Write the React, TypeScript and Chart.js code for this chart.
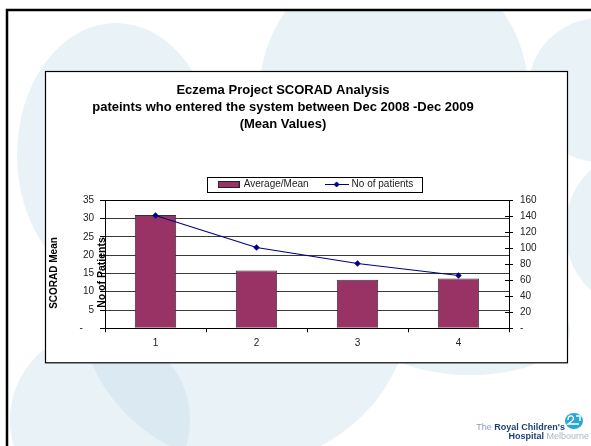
import React, { useEffect, useRef } from 'react';
import { Chart, registerables } from 'chart.js';

Chart.register(...registerables);

// ---- data ----
const categories = ['1', '2', '3', '4'];
const scoradMean = [31.0, 15.8, 13.3, 13.6];
const patientCount = [141, 101, 81, 66];
const seriesNames = ['Average/Mean', 'No of patients'];
const titleLines = [
  'Eczema Project SCORAD Analysis',
  'pateints who entered the system between Dec 2008 -Dec 2009',
  '(Mean Values)',
];
const leftAxisTitle = 'SCORAD Mean';
const rightAxisTitle = 'No of Patients';
const leftAxisMax = 35;
const leftAxisStep = 5;
const rightAxisMax = 160;
const rightAxisStep = 20;

const FONT = '"Liberation Sans", Arial, Helvetica, sans-serif';
const BAR_COLOR = '#993366';
const LINE_COLOR = '#000080';

const decorPlugin = {
  id: 'decor',
  beforeDraw(chart: any) {
    const ctx = chart.ctx as CanvasRenderingContext2D;
    const W = chart.width;
    const H = chart.height;
    const pad = chart.options.layout.padding;
    ctx.save();
    ctx.fillStyle = '#ffffff';
    ctx.fillRect(0, 0, W, H);
    ctx.beginPath();
    ctx.rect(8, 11, W - 8, H - 11);
    ctx.clip();
    ctx.fillStyle = 'rgba(200,225,235,0.42)';
    const ell = (x: number, y: number, rx: number, ry: number) => {
      ctx.beginPath();
      ctx.ellipse(x, y, rx, ry, 0, 0, Math.PI * 2);
      ctx.fill();
    };
    ell(116, 155, 99, 132);
    ell(394, 90, 134, 134);
    ell(600, 90, 72, 72);
    ell(100, 420, 90, 90);
    ell(245, 297, 167, 167);
    ell(470, 330, 100, 45);
    ell(640, 230, 75, 80);
    ctx.restore();

    // slide border
    ctx.save();
    ctx.strokeStyle = '#000';
    ctx.lineWidth = 2.5;
    ctx.beginPath();
    ctx.moveTo(7, H);
    ctx.lineTo(7, 10);
    ctx.lineTo(W, 10);
    ctx.stroke();

    // chart box
    const bx = pad.left + 0.5;
    const by = pad.top + 0.5;
    const bw = W - pad.left - pad.right - 1;
    const bh = H - pad.top - pad.bottom;
    ctx.fillStyle = '#fff';
    ctx.fillRect(bx, by, bw, bh);
    ctx.lineWidth = 1.2;
    ctx.strokeRect(bx, by, bw, bh);

    // logo
    ctx.textBaseline = 'middle';
    ctx.textAlign = 'right';
    ctx.font = `bold 9px ${FONT}`;
    ctx.fillStyle = '#1f3f7a';
    ctx.fillText("Royal Children's", 565, 428);
    const w1 = ctx.measureText("Royal Children's").width;
    ctx.font = `9px ${FONT}`;
    ctx.fillStyle = '#8a9bb5';
    ctx.fillText('The ', 565 - w1, 428);
    ctx.font = `9px ${FONT}`;
    ctx.fillStyle = '#a9b6c6';
    ctx.fillText('Melbourne', 589, 437);
    const w2 = ctx.measureText('Melbourne').width;
    ctx.font = `bold 9px ${FONT}`;
    ctx.fillStyle = '#1f3f7a';
    ctx.fillText('Hospital ', 589 - w2, 437);
    ctx.fillStyle = '#2aa6d5';
    ctx.beginPath();
    ctx.ellipse(574, 421, 9, 8, 0, 0, Math.PI * 2);
    ctx.fill();
    ctx.strokeStyle = '#fff';
    ctx.lineWidth = 1.4;
    ctx.beginPath();
    ctx.moveTo(568, 420);
    ctx.quadraticCurveTo(568, 415, 572, 416);
    ctx.quadraticCurveTo(575, 418, 572, 421);
    ctx.lineTo(568, 424);
    ctx.lineTo(579, 424);
    ctx.moveTo(576, 416);
    ctx.lineTo(580, 416);
    ctx.lineTo(580, 421);
    ctx.stroke();
    ctx.restore();
  },
  afterLayout(chart: any) {
    const ca = chart.chartArea;
    const mid = (ca.left + ca.right) / 2;
    const tb = chart.titleBlock;
    if (tb) {
      const d = mid - 24 - (tb.left + tb.right) / 2;
      tb.left += d;
      tb.right += d;
    }
    const lg = chart.legend;
    if (lg) {
      const p = lg.options.labels.padding;
      const d = mid + 9 - (lg.left + lg.right) / 2;
      lg.left += d;
      lg.right += d;
      const cy = ca.top - 15.8;
      const h = lg.height;
      lg.top = cy - 5 - p;
      lg.bottom = lg.top + h;
    }
  },
  afterDraw(chart: any) {
    const ctx = chart.ctx as CanvasRenderingContext2D;
    const ca = chart.chartArea;
    ctx.save();
    // plot border
    ctx.strokeStyle = '#000';
    ctx.lineWidth = 1;
    const l = Math.round(ca.left) + 0.5;
    const t = Math.round(ca.top) + 0.5;
    const r = Math.round(ca.right) + 0.5;
    const b = Math.round(ca.bottom) + 0.5;
    ctx.strokeRect(l, t, r - l, b - t);

    // inner ticks of right axis
    const y1 = chart.scales.y1;
    ctx.beginPath();
    y1.ticks.forEach((tk: any) => {
      const py = Math.round(y1.getPixelForValue(tk.value)) + 0.5;
      ctx.moveTo(ca.right - 4, py);
      ctx.lineTo(ca.right, py);
    });
    ctx.stroke();

    // legend border
    const lg = chart.legend;
    if (lg && lg.lineWidths) {
      const p = lg.options.labels.padding;
      const LW = lg.lineWidths[0];
      const xStart = (lg.left + p + lg.right - LW) / 2;
      const contentEnd = xStart + LW - p;
      const cy = lg.top + p + 5;
      const x0 = Math.round(xStart - 11.6) + 0.5;
      const x1 = Math.round(contentEnd + 9) + 0.5;
      const y0 = Math.round(cy - 7.8) + 0.5;
      const yb = Math.round(cy + 7.8) + 0.5;
      ctx.strokeRect(x0, y0, x1 - x0, yb - y0);
    }

    // axis titles
    const cyc = (ca.top + ca.bottom) / 2;
    ctx.fillStyle = '#000';
    ctx.font = `bold 10px ${FONT}`;
    ctx.textAlign = 'center';
    ctx.textBaseline = 'middle';
    ctx.translate(ca.left - 50.3, cyc + 8.7);
    ctx.rotate(-Math.PI / 2);
    ctx.fillText(leftAxisTitle, 0, 0);
    ctx.restore();
    ctx.save();
    ctx.fillStyle = '#000';
    ctx.font = `bold 10.5px ${FONT}`;
    ctx.textAlign = 'center';
    ctx.textBaseline = 'middle';
    ctx.translate(ca.left - 2.5, cyc + 8.2);
    ctx.rotate(-Math.PI / 2);
    ctx.fillText(rightAxisTitle, 0, 0);
    ctx.restore();
  },
};

export default function App() {
  const ref = useRef<HTMLCanvasElement>(null);
  useEffect(() => {
    document.body.style.margin = '0';
    const canvas = ref.current!;

    const barSwatch = document.createElement('canvas');
    barSwatch.width = 22;
    barSwatch.height = 7;
    {
      const c = barSwatch.getContext('2d')!;
      c.fillStyle = BAR_COLOR;
      c.fillRect(0.5, 0.5, 21, 6);
      c.strokeStyle = '#222';
      c.lineWidth = 1;
      c.strokeRect(0.5, 0.5, 21, 6);
    }
    const lineSwatch = document.createElement('canvas');
    lineSwatch.width = 24;
    lineSwatch.height = 7;
    {
      const c = lineSwatch.getContext('2d')!;
      c.strokeStyle = LINE_COLOR;
      c.lineWidth = 1;
      c.beginPath();
      c.moveTo(0, 3.5);
      c.lineTo(24, 3.5);
      c.stroke();
      c.fillStyle = LINE_COLOR;
      c.beginPath();
      c.moveTo(12, 0.5);
      c.lineTo(15, 3.5);
      c.lineTo(12, 6.5);
      c.lineTo(9, 3.5);
      c.closePath();
      c.fill();
    }

    Chart.defaults.font.family = FONT;

    const chart = new Chart(canvas, {
      type: 'bar',
      data: {
        labels: categories,
        datasets: [
          {
            type: 'line',
            label: seriesNames[1],
            data: patientCount,
            yAxisID: 'y1',
            borderColor: LINE_COLOR,
            backgroundColor: LINE_COLOR,
            borderWidth: 1.2,
            pointStyle: 'rectRot',
            pointRadius: 3.2,
            pointBorderWidth: 0,
            pointBackgroundColor: LINE_COLOR,
            tension: 0,
            order: 0,
          } as any,
          {
            type: 'bar',
            label: seriesNames[0],
            data: scoradMean,
            yAxisID: 'y',
            backgroundColor: BAR_COLOR,
            borderColor: '#333',
            borderWidth: 1,
            barPercentage: 0.41,
            categoryPercentage: 1,
            order: 1,
          },
        ],
      },
      options: {
        responsive: false,
        maintainAspectRatio: false,
        animation: false,
        events: [],
        layout: { padding: { left: 45, right: 23, top: 71, bottom: 83.7 } },
        plugins: {
          tooltip: { enabled: false },
          title: {
            display: true,
            text: titleLines,
            color: '#000',
            font: { family: FONT, size: 13, weight: 'bold', lineHeight: 17 / 13 },
            padding: { top: 10.7, bottom: 29.6 },
          },
          legend: {
            display: true,
            position: 'top',
            labels: {
              usePointStyle: true,
              pointStyleWidth: 20,
              padding: 18,
              color: '#222',
              font: { family: FONT, size: 10 },
              generateLabels: () => [
                {
                  text: seriesNames[0],
                  pointStyle: barSwatch as any,
                  fillStyle: BAR_COLOR,
                  strokeStyle: '#222',
                  lineWidth: 0,
                  hidden: false,
                  datasetIndex: 1,
                  fontColor: '#222',
                },
                {
                  text: seriesNames[1],
                  pointStyle: lineSwatch as any,
                  fillStyle: LINE_COLOR,
                  strokeStyle: LINE_COLOR,
                  lineWidth: 0,
                  hidden: false,
                  datasetIndex: 0,
                  fontColor: '#222',
                },
              ],
            },
          },
        },
        scales: {
          x: {
            type: 'category',
            offset: true,
            afterFit: (s: any) => {
              s.height = 34;
            },
            grid: {
              offset: true,
              drawOnChartArea: false,
              drawTicks: true,
              tickLength: 4,
              tickColor: '#000',
              color: '#000',
            },
            border: { display: true, color: '#000' },
            ticks: { color: '#222', padding: 5, font: { family: FONT, size: 10 } },
          },
          y: {
            type: 'linear',
            position: 'left',
            min: 0,
            max: leftAxisMax,
            afterFit: (s: any) => {
              s.width = 60;
            },
            grid: {
              color: '#3a3a3a',
              lineWidth: 1,
              tickLength: 5,
              tickColor: '#000',
            },
            border: { display: true, color: '#000' },
            ticks: {
              stepSize: leftAxisStep,
              color: '#222',
              padding: 6,
              font: { family: FONT, size: 10 },
              callback: (v: any) => (Number(v) === 0 ? '-    ' : String(v)),
            },
          },
          y1: {
            type: 'linear',
            position: 'right',
            min: 0,
            max: rightAxisMax,
            afterFit: (s: any) => {
              s.width = 59;
            },
            grid: {
              drawOnChartArea: false,
              tickLength: 4,
              tickColor: '#000',
            },
            border: { display: true, color: '#000' },
            ticks: {
              stepSize: rightAxisStep,
              color: '#222',
              padding: 7,
              font: { family: FONT, size: 10 },
              callback: (v: any) => (Number(v) === 0 ? '-' : String(v)),
            },
          },
        },
      },
      plugins: [decorPlugin],
    });
    return () => chart.destroy();
  }, []);
  return <canvas ref={ref} width={591} height={446} style={{ display: 'block' }} />;
}
